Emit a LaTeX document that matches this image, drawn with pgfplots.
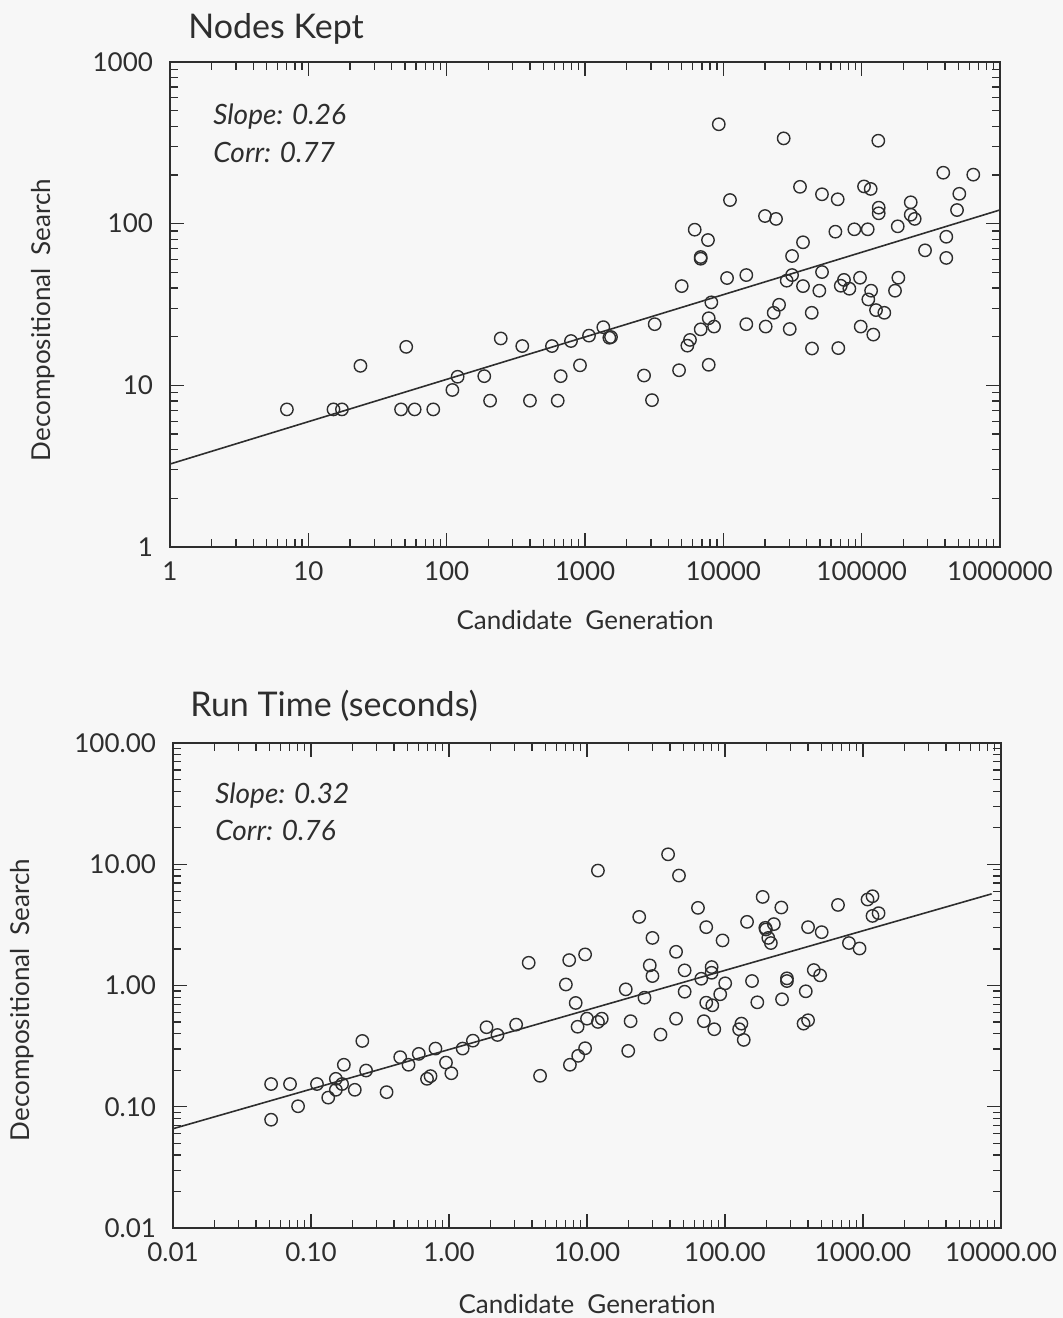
\documentclass[border=0pt]{standalone}
\usepackage{fontspec}
\setmainfont{Lato}
\usepackage{pgfplots}
\pgfplotsset{compat=1.18}
\usepackage{pgfplotstable}

\pgfplotstableread{
x y
7 7.1
15.2 7.1
17.5 7.1
23.8 13.2
51 17.3
46.8 7.1
58.7 7.1
80 7.1
110 9.36
120 11.3
187 11.4
206 8.04
246 19.5
352 17.5
400 8.04
577 17.5
635 8.04
667 11.4
792 18.8
920 13.3
1069 20.3
1356 22.9
1500 19.7
1542 19.9
2672 11.5
3050 8.1
3190 23.9
4786 12.4
5000 41.1
5495 17.6
5741 19.1
6210 91.8
6860 62.2
6860 60.7
6860 22.2
7745 79.2
7840 26
7840 13.4
8190 32.6
8570 23.1
9270 412
10640 46.1
11170 140
14660 48.1
14660 23.9
20000 111.5
20240 23.1
23120 28.1
24040 107
25290 31.5
27300 337
28710 44.4
30200 22.3
31400 63.1
31400 48.1
35840 169
37670 76.7
37670 41.1
43550 28.1
43740 16.9
49430 38.5
51650 152
51700 50.2
64560 89.2
67100 141.5
67800 17.0
70620 41.3
74500 44.9
81470 39.6
88500 92.3
97300 46.3
98400 23.1
104000 170
110600 92.3
111700 34.0
116200 164
117000 38.5
121400 20.6
127000 29.2
131900 326
132800 125.6
132800 115.9
145800 28.1
174200 38.5
182300 96.3
184200 46.3
226300 135.6
226300 113.6
241700 107
287100 68.4
389000 206.6
409000 83.0
409000 61.4
489000 121.4
508000 153
641000 201
}\topdata

\pgfplotstableread{
x y
0.0514 0.154
0.0514 0.0782
0.0705 0.154
0.0806 0.101
0.1105 0.154
0.1333 0.119
0.1514 0.170
0.1514 0.138
0.168 0.154
0.173 0.222
0.2077 0.138
0.2355 0.349
0.2506 0.199
0.353 0.132
0.443 0.2565
0.509 0.222
0.604 0.273
0.693 0.170
0.735 0.179
0.798 0.302
0.951 0.2315
1.04 0.189
1.256 0.302
1.49 0.351
1.871 0.453
2.245 0.391
3.065 0.476
3.78 1.54
4.57 0.18
7.03 1.02
7.43 1.62
7.52 0.222
8.28 0.718
8.55 0.457
8.63 0.263
9.69 1.806
10.0 0.533
9.69 0.304
12.0 8.87
12.0 0.501
12.8 0.533
19.1 0.93
19.9 0.289
20.7 0.508
23.9 3.68
26.1 0.794
28.5 1.466
29.8 2.47
29.8 1.197
34.1 0.394
38.7 12.08
44.2 1.897
44.2 0.533
46.4 8.07
51.0 1.334
51.0 0.889
63.7 4.37
67.3 1.137
70.3 0.508
73.1 3.03
73.1 0.722
80.0 1.42
80.0 1.274
80.9 0.687
83.6 0.436
92.3 0.847
96.0 2.355
100.3 1.043
126.6 0.436
131.5 0.485
136.7 0.356
144.5 3.35
157 1.089
171.5 0.727
187.5 5.38
196 2.99
198 2.90
206 2.47
215 2.24
226 3.21
256 4.40
259 0.770
281 1.146
281 1.089
371 0.485
385 0.896
400 0.517
400 3.03
440 1.341
489 1.213
502 2.755
659 4.62
791 2.24
944 2.02
1079 5.12
1172 5.45
1172 3.75
1297 3.95
}\botdata

\definecolor{ink}{gray}{0.18}

\tikzset{statnote/.style={anchor=west, inner sep=0pt, font=\fontsize{14}{16}\selectfont\itshape, text=ink}}

\pgfplotsset{
  sharedax/.style={
    scale only axis,
    anchor=south west,
    axis line style={line width=0.8pt, ink},
    tick align=inside,
    major tick length=7pt,
    minor tick length=4pt,
    every tick/.style={line width=0.6pt, ink},
    tick label style={font=\fontsize{13}{15}\selectfont, text=ink},
    xticklabel style={yshift=-4pt},
    yticklabel style={xshift=-5pt},
    label style={font=\fontsize{13}{15}\selectfont, text=ink},
    title style={font=\fontsize{17}{20}\selectfont, text=ink, anchor=west, inner sep=0pt},
    xlabel={Candidate\enspace Generation},
    ylabel={Decompositional\enspace Search},
  },
  scatpts/.style={only marks, mark=o, mark size=3.1pt, ink, line width=0.7pt},
  fitline/.style={no marks, ink, line width=0.8pt},
}

\begin{document}
\begin{tikzpicture}
\fill[black!3] (0,0) rectangle (531.5pt,-659pt);
\path[use as bounding box] (0,0) rectangle (531.5pt,-659pt);

\begin{loglogaxis}[sharedax,
  at={(85pt,-273.5pt)},
  width=415pt, height=242.5pt,
  xmin=1, xmax=1000000, ymin=1, ymax=1000,
  xtick={1,10,100,1000,10000,100000,1000000},
  xticklabels={1,10,100,1000,10000,100000,1000000},
  minor xtick={2,3,4,5,6,7,8,9,20,30,40,50,60,70,80,90,200,300,400,500,600,700,800,900,2000,3000,4000,5000,6000,7000,8000,9000,20000,30000,40000,50000,60000,70000,80000,90000,200000,300000,400000,500000,600000,700000,800000,900000},
  ytick={1,10,100,1000},
  yticklabels={1,10,100,1000},
  minor ytick={2,3,4,5,6,7,8,9,20,30,40,50,60,70,80,90,200,300,400,500,600,700,800,900},
  title={Nodes Kept},
  title style={at={(axis description cs:0.0217,1.043)}},
  xlabel style={at={(axis description cs:0.5,-0.1505)}, anchor=center},
  ylabel style={at={(axis description cs:-0.153,0.468)}, anchor=center},
]
\addplot[scatpts] table[x=x,y=y]{\topdata};
\addplot[fitline] coordinates {(1,3.26) (1000000,121.6)};
\node[statnote] at (axis description cs:0.0518,0.887) {Slope: 0.26};
\node[statnote] at (axis description cs:0.0518,0.814) {Corr: 0.77};
\end{loglogaxis}

\begin{loglogaxis}[sharedax,
  at={(86.5pt,-614pt)},
  width=414pt, height=242.5pt,
  xmin=0.01, xmax=10000, ymin=0.01, ymax=100,
  xtick={0.01,0.1,1,10,100,1000,10000},
  xticklabels={0.01,0.10,1.00,10.00,100.00,1000.00,10000.00},
  minor xtick={0.02,0.03,0.04,0.05,0.06,0.07,0.08,0.09,0.2,0.3,0.4,0.5,0.6,0.7,0.8,0.9,2,3,4,5,6,7,8,9,20,30,40,50,60,70,80,90,200,300,400,500,600,700,800,900,2000,3000,4000,5000,6000,7000,8000,9000},
  ytick={0.01,0.1,1,10,100},
  yticklabels={0.01,0.10,1.00,10.00,100.00},
  minor ytick={0.02,0.03,0.04,0.05,0.06,0.07,0.08,0.09,0.2,0.3,0.4,0.5,0.6,0.7,0.8,0.9,2,3,4,5,6,7,8,9,20,30,40,50,60,70,80,90},
  title={Run Time (seconds)},
  title style={at={(axis description cs:0.0205,1.051)}},
  xlabel style={at={(axis description cs:0.5,-0.157)}, anchor=center},
  ylabel style={at={(axis description cs:-0.182,0.470)}, anchor=center},
]
\addplot[scatpts] table[x=x,y=y]{\botdata};
\addplot[fitline] coordinates {(0.01,0.0659) (8550,5.70)};
\node[statnote] at (axis description cs:0.0507,0.891) {Slope: 0.32};
\node[statnote] at (axis description cs:0.0507,0.819) {Corr: 0.76};
\end{loglogaxis}
\end{tikzpicture}
\end{document}
